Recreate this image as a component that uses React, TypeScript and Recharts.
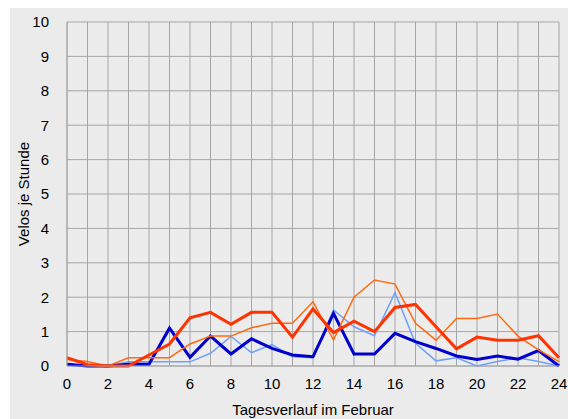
import React from 'react';
import {LineChart, Line, XAxis, YAxis, CartesianGrid, Label} from 'recharts';

const hours = [0, 1, 2, 3, 4, 5, 6, 7, 8, 9, 10, 11, 12, 13, 14, 15, 16, 17, 18, 19, 20, 21, 22, 23, 24];
const xTickLabels = [0, 2, 4, 6, 8, 10, 12, 14, 16, 18, 20, 22, 24];
const yTicks = [0, 1, 2, 3, 4, 5, 6, 7, 8, 9, 10];

const darkBlue = [0.05, 0, 0, 0.05, 0.05, 1.1, 0.25, 0.87, 0.35, 0.79, 0.51, 0.32, 0.27, 1.53, 0.35, 0.35, 0.95, 0.71, 0.51, 0.29, 0.19, 0.29, 0.2, 0.45, 0];
const lightBlue = [0.02, 0.02, 0, 0.12, 0.12, 0.12, 0.12, 0.37, 0.86, 0.39, 0.62, 0.27, 0.24, 1.63, 1.14, 0.88, 2.13, 0.66, 0.15, 0.24, 0, 0.13, 0.24, 0.13, 0];
const red = [0.24, 0.04, 0, 0, 0.32, 0.64, 1.4, 1.56, 1.21, 1.56, 1.56, 0.84, 1.66, 0.97, 1.3, 1.0, 1.7, 1.79, 1.14, 0.5, 0.84, 0.75, 0.75, 0.88, 0.24];
const orange = [0.19, 0.13, 0, 0.24, 0.24, 0.24, 0.64, 0.87, 0.87, 1.11, 1.24, 1.24, 1.87, 0.76, 2.0, 2.5, 2.38, 1.24, 0.75, 1.38, 1.38, 1.51, 0.87, 0.47, 0.13];

const data = hours.map((h, i) => ({
  h,
  darkBlue: darkBlue[i],
  lightBlue: lightBlue[i],
  red: red[i],
  orange: orange[i],
}));

const font = "'Liberation Sans', Arial, sans-serif";

export default function App() {
  return (
    <div style={{position: 'absolute', left: 0, top: 0, width: 568, height: 419, background: '#fff', fontFamily: font}}>
      <div style={{position: 'absolute', left: 10, top: 8, width: 558, height: 411, background: '#ebebeb'}} />
      <div style={{position: 'absolute', left: 0, top: 0}}>
        <LineChart
          width={568}
          height={419}
          data={data}
          margin={{top: 22, right: 9, bottom: 0, left: 17}}
          style={{fontFamily: font}}
        >
          <CartesianGrid stroke="#a6a6a6" strokeWidth={1} fill="#ececec" />
          <XAxis
            dataKey="h"
            type="number"
            domain={[0, 24]}
            ticks={hours}
            interval={0}
            tickFormatter={(v: number) => (xTickLabels.includes(v) ? String(v) : '')}
            tickLine={false}
            axisLine={{stroke: '#a6a6a6'}}
            tick={{fill: '#000', fontSize: 15, fontFamily: font}}
            tickMargin={6}
            height={53}
          >
            <Label value="Tagesverlauf im Februar" position="insideBottom" offset={4} fill="#000" fontSize={15} fontFamily={font} />
          </XAxis>
          <YAxis
            type="number"
            domain={[0, 10]}
            ticks={yTicks}
            interval={0}
            tickLine={false}
            axisLine={{stroke: '#a6a6a6'}}
            tick={{fill: '#000', fontSize: 15, fontFamily: font}}
            tickMargin={12}
            width={50}
          >
            <Label value="Velos je Stunde" angle={-90} position="insideLeft" offset={7} fill="#000" fontSize={15} fontFamily={font} style={{textAnchor: 'middle'}} />
          </YAxis>
          <Line dataKey="lightBlue" stroke="#6fa0ff" strokeWidth={1.5} dot={false} isAnimationActive={false} />
          <Line dataKey="darkBlue" stroke="#0000cc" strokeWidth={3} dot={false} isAnimationActive={false} />
          <Line dataKey="orange" stroke="#ff6a10" strokeWidth={1.5} dot={false} isAnimationActive={false} />
          <Line dataKey="red" stroke="#ff3300" strokeWidth={3} dot={false} isAnimationActive={false} />
        </LineChart>
      </div>
    </div>
  );
}
